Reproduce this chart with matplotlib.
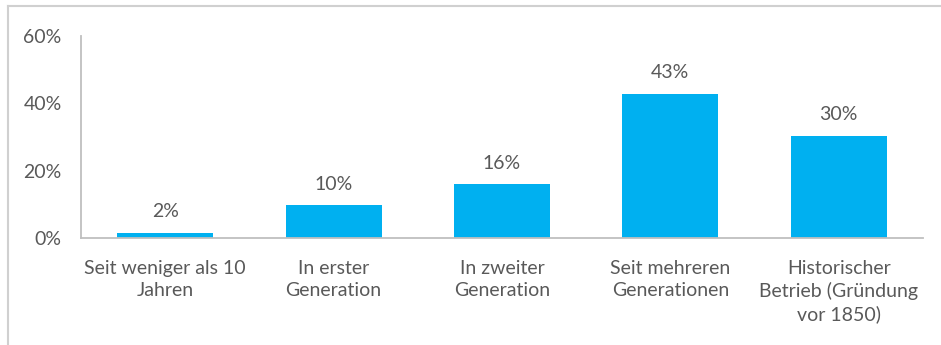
import matplotlib.pyplot as plt
from matplotlib.lines import Line2D

categories = ['Seit weniger als 10\nJahren', 'In erster\nGeneration', 'In zweiter\nGeneration',
              'Seit mehreren\nGenerationen', 'Historischer\nBetrieb (Gründung\nvor 1850)']
values = [1.5, 9.7, 16.0, 42.8, 30.3]
value_labels = ['2%', '10%', '16%', '43%', '30%']
y_ticks = [0, 20, 40, 60]

bar_color = '#00B0F0'
text_color = '#595959'
axis_color = '#BFBFBF'

plt.rcParams['font.family'] = ['Lato', 'DejaVu Sans']

fig = plt.figure(figsize=(9.41, 3.45), dpi=100)
ax = fig.add_axes([81 / 941, 1 - 238 / 345, 842 / 941, 202 / 345])

x = range(len(categories))
bars = ax.bar(x, values, width=0.57, color=bar_color)
for b, lbl in zip(bars, value_labels):
    ax.annotate(lbl, (b.get_x() + b.get_width() / 2, b.get_height()),
                xytext=(0, 9), textcoords='offset points', ha='center', va='bottom',
                fontsize=14, color=text_color)

ax.set_xlim(-0.5, len(categories) - 0.5)
ax.set_ylim(0, 60)
ax.set_yticks(y_ticks)
ax.set_yticklabels([f'{t}%' for t in y_ticks])
ax.set_xticks(list(x))
ax.set_xticklabels(categories, linespacing=1.34)
ax.tick_params(axis='y', length=0, pad=14, labelsize=14, labelcolor=text_color)
ax.tick_params(axis='x', length=0, pad=16, labelsize=14, labelcolor=text_color)

for side in ['top', 'right']:
    ax.spines[side].set_visible(False)
for side in ['left', 'bottom']:
    ax.spines[side].set_color(axis_color)
    ax.spines[side].set_linewidth(1.3)

# outer chart frame (only top and left edges visible in the crop)
fig.add_artist(Line2D([7.5 / 941, 7.5 / 941], [0, 1 - 6 / 345], transform=fig.transFigure,
                      color='#D0D0D0', linewidth=1.5))
fig.add_artist(Line2D([7.5 / 941, 1], [1 - 6 / 345, 1 - 6 / 345], transform=fig.transFigure,
                      color='#D0D0D0', linewidth=1.5))

fig.savefig('out.png', dpi=100)
